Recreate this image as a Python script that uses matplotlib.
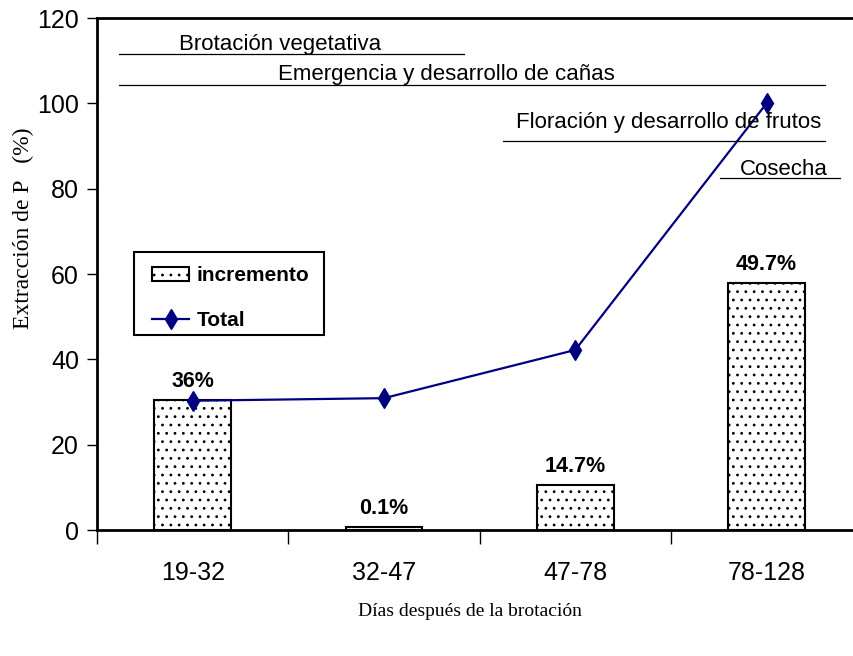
import matplotlib.pyplot as plt
from matplotlib.patches import Rectangle
import numpy as np

categorias = ["19-32", "32-47", "47-78", "78-128"]
incremento = [30.5, 0.6, 10.5, 57.9]
total = [30.3, 30.9, 42.2, 100.0]
etiquetas = ["36%", "0.1%", "14.7%", "49.7%"]
fases = ["Brotación vegetativa", "Emergencia y desarrollo de cañas",
         "Floración y desarrollo de frutos", "Cosecha"]

sans = ["Liberation Sans", "DejaVu Sans"]
serif = ["Liberation Serif", "DejaVu Serif"]
plt.rcParams["hatch.linewidth"] = 0.8

fig = plt.figure(figsize=(8.54, 6.56), dpi=100)
ax = fig.add_axes([97 / 854, 1 - 530 / 656, 757 / 854, 512 / 656])

x = np.arange(len(categorias))
barras = ax.bar(x, incremento, width=0.40, color="white", edgecolor="black",
                linewidth=1.5, hatch="..", label="incremento")
linea, = ax.plot(x, total, color="#000080", marker="d", markersize=10,
                 linewidth=1.6, label="Total")

for xi, v, t in zip(x, incremento, etiquetas):
    ax.annotate(t, (xi, v), xytext=(0, 9.5), textcoords="offset points",
                ha="center", va="baseline", fontsize=15.5, fontweight="bold",
                family=sans)

# fases fenologicas
ax.plot([-0.385, 1.418], [111.6, 111.6], color="black", lw=0.9)
ax.text(0.459, 112.5, fases[0], ha="center", va="baseline", fontsize=16, family=sans)
ax.plot([-0.385, 3.306], [104.3, 104.3], color="black", lw=0.9)
ax.text(1.324, 105.5, fases[1], ha="center", va="baseline", fontsize=16, family=sans)
ax.plot([1.622, 3.306], [91.2, 91.2], color="black", lw=0.9)
ax.text(2.49, 94.2, fases[2], ha="center", va="baseline", fontsize=16, family=sans)
ax.plot([2.757, 3.384], [82.5, 82.5], color="black", lw=0.9)
ax.text(3.089, 83.3, fases[3], ha="center", va="baseline", fontsize=16, family=sans)

ax.set_yticks(np.arange(0, 121, 20))
ax.set_xticks([-0.5, 0.5, 1.5, 2.5, 3.5])
ax.set_xticklabels([])
ax.set_xticks(x, minor=True)
ax.set_xticklabels(categorias, minor=True)
# limites despues de los ticks (set_xticks los amplia)
ax.set_xlim(-0.5, 3.457)
ax.set_ylim(0, 120)
ax.tick_params(axis="x", which="major", length=10, width=1, direction="out")
ax.tick_params(axis="x", which="minor", length=0, pad=22, labelsize=18)
ax.tick_params(axis="y", length=7, width=1, direction="out", pad=6, labelsize=18)
for lab in ax.get_xticklabels(minor=True) + ax.get_yticklabels():
    lab.set_family(sans)

for s in ["left", "bottom", "top"]:
    ax.spines[s].set_linewidth(2)
ax.spines["right"].set_visible(False)

ax.set_ylabel("Extracción de P   (%)", family=serif, fontsize=17)
ax.yaxis.set_label_coords(-0.083, 0.59)
fig.text(470 / 854, 1 - 612 / 656, "Días después de la brotación",
         family=serif, fontsize=14, ha="center", va="center")

# leyenda con marco propio
ax.add_patch(Rectangle((0.0489, 0.381), 0.251, 0.162, transform=ax.transAxes,
                       facecolor="white", edgecolor="black", lw=1.5, zorder=4))
leg = ax.legend([barras, linea], ["incremento", "Total"], loc="upper left",
                bbox_to_anchor=(0.0727, 0.515), frameon=False,
                prop={"family": sans, "weight": "bold", "size": 15},
                borderpad=0, borderaxespad=0, handlelength=1.78,
                handleheight=0.7, handletextpad=0.35, labelspacing=1.24)
leg.set_zorder(5)

fig.savefig("out.png", dpi=100)
